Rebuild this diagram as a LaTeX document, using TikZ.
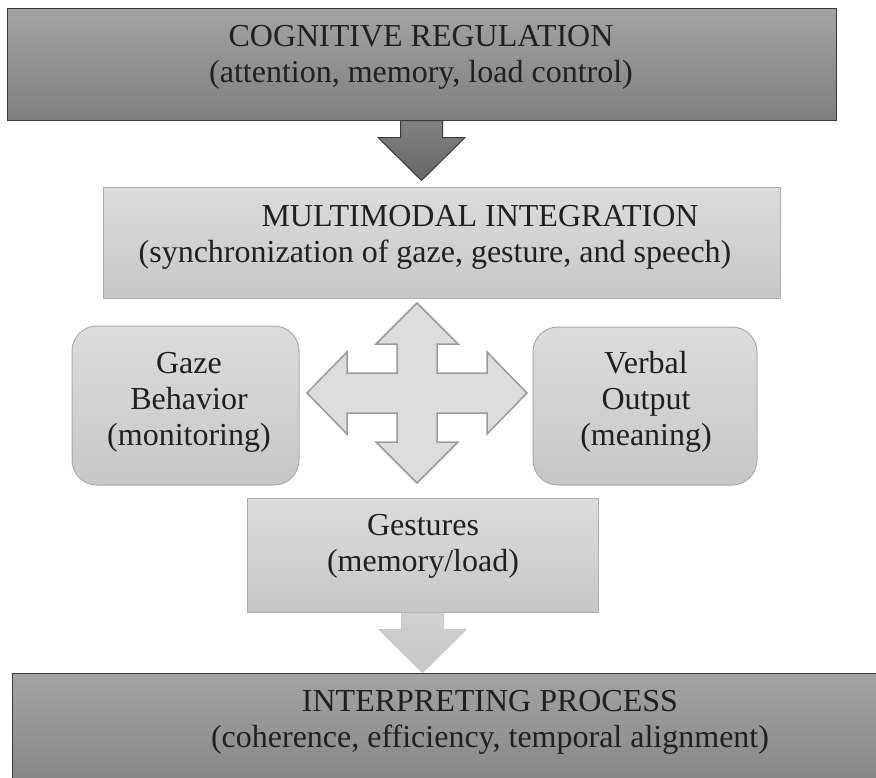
\documentclass[tikz,border=0pt]{standalone}
\usepackage{fontspec}
\setmainfont{Liberation Serif}
\usepackage{tikz}
\usetikzlibrary{calc}
\definecolor{darktop}{HTML}{A3A3A3}
\definecolor{darkbot}{HTML}{7F7F7F}
\definecolor{darkline}{HTML}{3A3A3A}
\definecolor{lighttop}{HTML}{DCDCDC}
\definecolor{lightbot}{HTML}{C7C7C7}
\definecolor{lightline}{HTML}{ABABAB}
\definecolor{inkgray}{HTML}{231F20}
\tikzset{
    darkbox/.style={rectangle, draw=darkline, line width=1pt, top color=darktop, bottom color=darkbot},
    lightbox/.style={rectangle, draw=lightline, line width=1pt, top color=lighttop, bottom color=lightbot},
    softbox/.style={lightbox, rounded corners=25pt},
    boxtext/.style={align=center, text=inkgray, inner sep=0pt, font=\fontsize{32}{36}\selectfont},
    darkarrow/.style={draw=darkline, line width=1pt, top color=darktop!80!black, bottom color=darkbot!80!black},
    lightarrow/.style={draw=lightbot, line width=1pt, top color=lighttop!95!black, bottom color=lightbot},
    crossarrow/.style={draw=lightline!90!black, line width=1.5pt, fill=lighttop!98!white, line join=miter},
}

\begin{document}
\begin{tikzpicture}[x=1pt, y=-1pt]
  \useasboundingbox (0,0) rectangle (876,777);
  \clip (0,0) rectangle (876,777);

  % boxes
  \node[darkbox, minimum width=829pt, minimum height=112pt] (cog) at (421.5,64) {};
  \node[lightbox, minimum width=677pt, minimum height=111pt] (multi) at (441.5,242.5) {};
  \node[softbox, minimum width=227pt, minimum height=159pt] (gaze) at (185.5,405.5) {};
  \node[softbox, minimum width=224pt, minimum height=158pt] (verbal) at (645,406) {};
  \node[lightbox, minimum width=351pt, minimum height=114pt] (gest) at (422.5,555) {};
  \node[darkbox, minimum width=956pt, minimum height=140pt] (interp) at (490,743) {};
  \coordinate (hub) at (417,393);

  % texts
  \node[boxtext] (cogtxt) at (421,57) {COGNITIVE REGULATION\\(attention, memory, load control)};
  \node[boxtext] (multitxt) at (435,237.5) {\hspace*{90pt}MULTIMODAL INTEGRATION\\(synchronization of gaze, gesture, and speech)};
  \node[boxtext] (gazetxt) at (189,402) {Gaze\\Behavior\\(monitoring)};
  \node[boxtext] (verbtxt) at (646,402) {Verbal\\Output\\(meaning)};
  \node[boxtext] (gesttxt) at (423,546) {Gestures\\(memory/load)};
  \node[boxtext] (interptxt) at (490,722.5) {INTERPRETING PROCESS\\(coherence, efficiency, temporal alignment)};

  % block arrows
  \draw[darkarrow] ($(cog.south)+(-21,0)$) -- ++(0,17) -- ++(-22.5,0)
    -- ($(cog.south |- multi.north)+(0,-6)$) -- ($(cog.south)+(43.5,17)$)
    -- ++(-22.5,0) -- ($(cog.south)+(21,0)$) -- cycle;
  \draw[lightarrow] ($(gest.south)+(-21,0)$) -- ++(0,17) -- ++(-22.5,0)
    -- (gest.south |- interp.north) -- ($(gest.south)+(43.5,17)$)
    -- ++(-22.5,0) -- ($(gest.south)+(21,0)$);
  \draw[crossarrow, shift={(hub)}] (0,-90) -- (41,-49) -- (20,-49) -- (20,-20)
    -- (70,-20) -- (70,-41) -- (110,0) -- (70,41) -- (70,20) -- (20,20)
    -- (20,49) -- (41,49) -- (0,90) -- (-41,49) -- (-20,49) -- (-20,20)
    -- (-70,20) -- (-70,41) -- (-110,0) -- (-70,-41) -- (-70,-20) -- (-20,-20)
    -- (-20,-49) -- (-41,-49) -- cycle;
\end{tikzpicture}
\end{document}
